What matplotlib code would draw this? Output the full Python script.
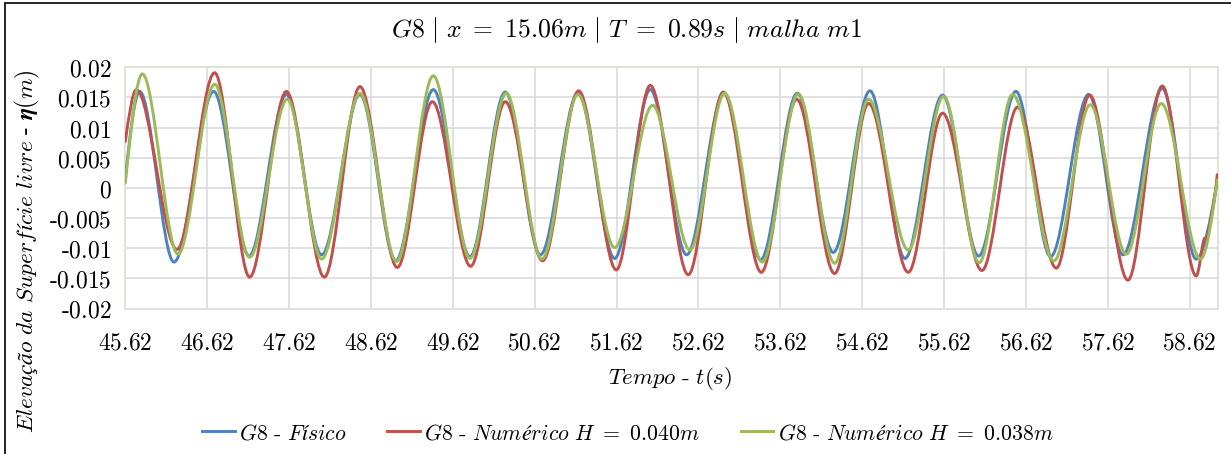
import matplotlib
matplotlib.use('Agg')
import matplotlib.pyplot as plt
from matplotlib.path import Path
from matplotlib.patches import PathPatch, Rectangle
from matplotlib.lines import Line2D

plt.rcParams['mathtext.fontset'] = 'cm'

# --- data (peaks / troughs, s and m) ---
t_fisico = [45.620, 45.795, 46.215, 46.699, 47.131, 47.587, 48.018, 48.486, 48.922, 49.382,
            49.830, 50.261, 50.689, 51.149, 51.597, 52.032, 52.476, 52.932, 53.380, 53.828,
            54.267, 54.715, 55.142, 55.602, 56.042, 56.498, 56.921, 57.386, 57.805, 58.285,
            58.700, 58.957]
eta_fisico = [0.0016, 0.0160, -0.0123, 0.0160, -0.0113, 0.0155, -0.0111, 0.0155, -0.0121, 0.0163,
              -0.0114, 0.0159, -0.0111, 0.0157, -0.0117, 0.0163, -0.0111, 0.0157, -0.0119, 0.0157,
              -0.0107, 0.0161, -0.0117, 0.0154, -0.0113, 0.0160, -0.0114, 0.0155, -0.0111, 0.0165,
              -0.0118, 0.0010]

t_num040 = [45.620, 45.755, 46.251, 46.711, 47.139, 47.587, 48.051, 48.486, 48.942, 49.370,
            49.838, 50.261, 50.717, 51.157, 51.617, 52.032, 52.496, 52.924, 53.388, 53.820,
            54.283, 54.699, 55.183, 55.602, 56.083, 56.518, 56.991, 57.398, 57.866, 58.285,
            58.700, 58.794, 58.843, 58.957]
eta_num040 = [0.0077, 0.0163, -0.0102, 0.0191, -0.0148, 0.0160, -0.0148, 0.0168, -0.0132, 0.0143,
              -0.0130, 0.0143, -0.0121, 0.0161, -0.0136, 0.0170, -0.0144, 0.0159, -0.0140, 0.0147,
              -0.0142, 0.0140, -0.0140, 0.0124, -0.0137, 0.0134, -0.0133, 0.0154, -0.0153, 0.0169,
              -0.0146, -0.0086, -0.0078, 0.0022]

t_num038 = [45.620, 45.828, 46.264, 46.711, 47.139, 47.599, 48.018, 48.486, 48.934, 49.382,
            49.830, 50.273, 50.709, 51.149, 51.597, 52.061, 52.517, 52.940, 53.400, 53.840,
            54.283, 54.699, 55.183, 55.615, 56.050, 56.457, 56.962, 57.406, 57.846, 58.273,
            58.753, 58.957]
eta_num038 = [0.0008, 0.0189, -0.0110, 0.0172, -0.0115, 0.0147, -0.0118, 0.0157, -0.0122, 0.0186,
              -0.0117, 0.0157, -0.0118, 0.0155, -0.0099, 0.0137, -0.0103, 0.0157, -0.0123, 0.0156,
              -0.0125, 0.0147, -0.0103, 0.0152, -0.0124, 0.0155, -0.0121, 0.0138, -0.0110, 0.0140,
              -0.0118, 0.0013]

series_labels = ['G8 - Físico', 'G8 - Numérico H = 0.040m', 'G8 - Numérico H = 0.038m']
xtick_values = [45.62, 46.62, 47.62, 48.62, 49.62, 50.62, 51.62, 52.62, 53.62, 54.62,
                55.62, 56.62, 57.62, 58.62]
xtick_labels = ['45.62', '46.62', '47.62', '48.62', '49.62', '50.62', '51.62', '52.62',
                '53.62', '54.62', '55.62', '56.62', '57.62', '58.62']
ytick_values = [0.02, 0.015, 0.01, 0.005, 0, -0.005, -0.01, -0.015, -0.02]
ytick_labels = ['0.02', '0.015', '0.01', '0.005', '0', '-0.005', '-0.01', '-0.015', '-0.02']

colors = ['#4F81BD', '#C0504D', '#9BBB59']


def cm(s):
    # italic computer modern look, plain hyphen instead of a math minus
    s = s.replace(' ', r'\ ').replace('-', r'\text{-}')
    return r'$\mathit{' + s + '}$'


def smooth_path(t, v):
    # cubic bezier through the read points, flat at peaks/troughs (like a smoothed line)
    n = len(t)
    slopes = []
    for i in range(n):
        if i == 0:
            s = 1.5 * (v[1] - v[0]) / (t[1] - t[0])
        elif i == n - 1:
            s = 1.5 * (v[-1] - v[-2]) / (t[-1] - t[-2])
        elif (v[i] - v[i - 1]) * (v[i + 1] - v[i]) <= 0:
            s = 0.0
        else:
            s = (v[i + 1] - v[i - 1]) / (t[i + 1] - t[i - 1])
        slopes.append(s)
    verts = [(t[0], v[0])]
    codes = [Path.MOVETO]
    for i in range(n - 1):
        h = (t[i + 1] - t[i]) / 3
        verts += [(t[i] + h, v[i] + slopes[i] * h),
                  (t[i + 1] - h, v[i + 1] - slopes[i + 1] * h),
                  (t[i + 1], v[i + 1])]
        codes += [Path.CURVE4] * 3
    return Path(verts, codes)


fig = plt.figure(figsize=(12.31, 4.54), dpi=100)
ax = fig.add_axes([125.3 / 1231, 1 - 308.5 / 454, (1217.5 - 125.3) / 1231, (308.5 - 67.3) / 454])

for (t, v), c in zip([(t_fisico, eta_fisico), (t_num040, eta_num040), (t_num038, eta_num038)], colors):
    ax.add_patch(PathPatch(smooth_path(t, v), fill=False, edgecolor=c, lw=2.1,
                           capstyle='round', joinstyle='round', zorder=3))

ax.set_xlim(45.62, 58.96)
ax.set_ylim(-0.02, 0.02)
ax.set_xticks(xtick_values)
ax.set_xticklabels([cm(s) for s in xtick_labels], fontsize=17)
ax.set_yticks(ytick_values)
ax.set_yticklabels([cm(s) for s in ytick_labels], fontsize=17)
ax.tick_params(length=0)
ax.tick_params(axis='x', pad=16)
ax.tick_params(axis='y', pad=10)
ax.grid(True, color='#D9D9D9', lw=1.1)
ax.set_axisbelow(True)
for sp in ax.spines.values():
    sp.set_color('#E2E2DA')
    sp.set_linewidth(1.5)

fig.text(627 / 1231, 1 - 30 / 454, cm('G8 | x = 15.06m | T = 0.89s | malha m1'),
         ha='center', va='center', fontsize=18.5)
fig.text(670 / 1231, 1 - 379 / 454, cm('Tempo - t(s)'), ha='center', va='center', fontsize=16.5)
fig.text(27 / 1231, 1 - 251 / 454,
         r'$\mathit{Elevação\ da\ Superfície\ livre\ \text{-}\ }\boldsymbol{\eta}\mathit{(m)}$',
         ha='center', va='center', rotation=90, fontsize=16.8)

handles = [Line2D([], [], color=c, lw=2.1) for c in colors]
fig.legend(handles, [cm(s) for s in series_labels], loc='center',
           bbox_to_anchor=(628 / 1231, 1 - 433 / 454), ncol=3, frameon=False, fontsize=15.7,
           handlelength=1.5, handletextpad=0.2, columnspacing=1.85)

fig.patches.append(Rectangle((5 / 1231, -0.05), 1.1, 1 - 3 / 454 + 0.05, transform=fig.transFigure,
                             fill=False, ec='black', lw=1.2))

fig.savefig('out.png', dpi=100)
